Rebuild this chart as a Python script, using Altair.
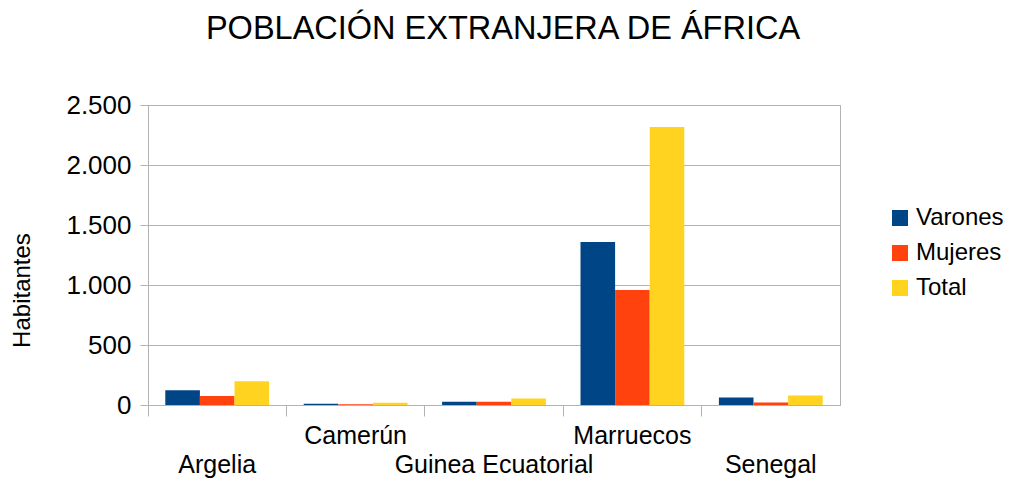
import altair as alt
import pandas as pd

paises = ["Argelia", "Camerún", "Guinea Ecuatorial", "Marruecos", "Senegal"]
series = ["Varones", "Mujeres", "Total"]
varones = [122, 11, 28, 1358, 62]
mujeres = [75, 6, 27, 958, 20]
total = [197, 19, 54, 2316, 79]
colores = ["#004586", "#ff420e", "#ffd320"]

rows = []
for i, p in enumerate(paises):
    for s, vals in zip(series, [varones, mujeres, total]):
        rows.append({"pais": p, "serie": s, "valor": vals[i]})
df = pd.DataFrame(rows)

FONT = "Liberation Sans"
GRID = "#b3b3b3"

chart = alt.Chart(df).mark_bar().encode(
    x=alt.X("pais:N", sort=paises,
            scale=alt.Scale(paddingInner=0, paddingOuter=0),
            axis=alt.Axis(title=None, bandPosition=0,
                          labelAngle=0, labelFontSize=25, labelFont=FONT,
                          labelColor="#000000", labelBaseline="top",
                          labelAlign="center", labelLimit=400,
                          labelExpr="indexof(['Camerún','Marruecos'], datum.label) >= 0 ? datum.label : ['', datum.label]",
                          labelLineHeight=29, labelPadding=7,
                          tickSize=11, tickColor=GRID, domainColor=GRID,
                          labelOverlap=False, labelBound=False, labelFlush=False)),
    xOffset=alt.XOffset("serie:N", sort=series,
                        scale=alt.Scale(paddingInner=0, paddingOuter=0.5)),
    y=alt.Y("valor:Q", scale=alt.Scale(domain=[0, 2500]),
            axis=alt.Axis(title="Habitantes", values=[0, 500, 1000, 1500, 2000, 2500],
                          labelExpr="replace(format(datum.value, ',d'), ',', '.')",
                          labelFontSize=26, labelFont=FONT, labelColor="#000000",
                          tickSize=8, labelPadding=9, tickColor=GRID,
                          domainColor=GRID, gridColor=GRID,
                          titleFontSize=24, titleFont=FONT, titleFontWeight="normal",
                          titleColor="#000000", titleX=-126, titleY=185,
                          titleAngle=-90, titleBaseline="middle", titleAlign="center")),
    color=alt.Color("serie:N", sort=series,
                    scale=alt.Scale(domain=series, range=colores),
                    legend=alt.Legend(title=None, orient="none", legendX=740, legendY=101,
                                      padding=0,
                                      symbolType="square", symbolSize=256,
                                      symbolStrokeWidth=0, labelFontSize=24,
                                      labelFont=FONT, labelColor="#000000",
                                      labelOffset=4, rowPadding=11, labelLimit=300)),
).properties(
    width=692, height=300,
    title=alt.TitleParams("POBLACIÓN EXTRANJERA DE ÁFRICA", fontSize=32.5, font=FONT,
                          fontWeight="normal", color="#000000", anchor="middle",
                          dx=9, offset=47),
    autosize=alt.AutoSizeParams(type="none"),
    padding={"left": 140, "top": 97, "right": 168, "bottom": 75},
).configure_view(stroke=GRID, strokeWidth=1)

chart.save("out.html", embed_options={"renderer": "svg", "actions": False})
